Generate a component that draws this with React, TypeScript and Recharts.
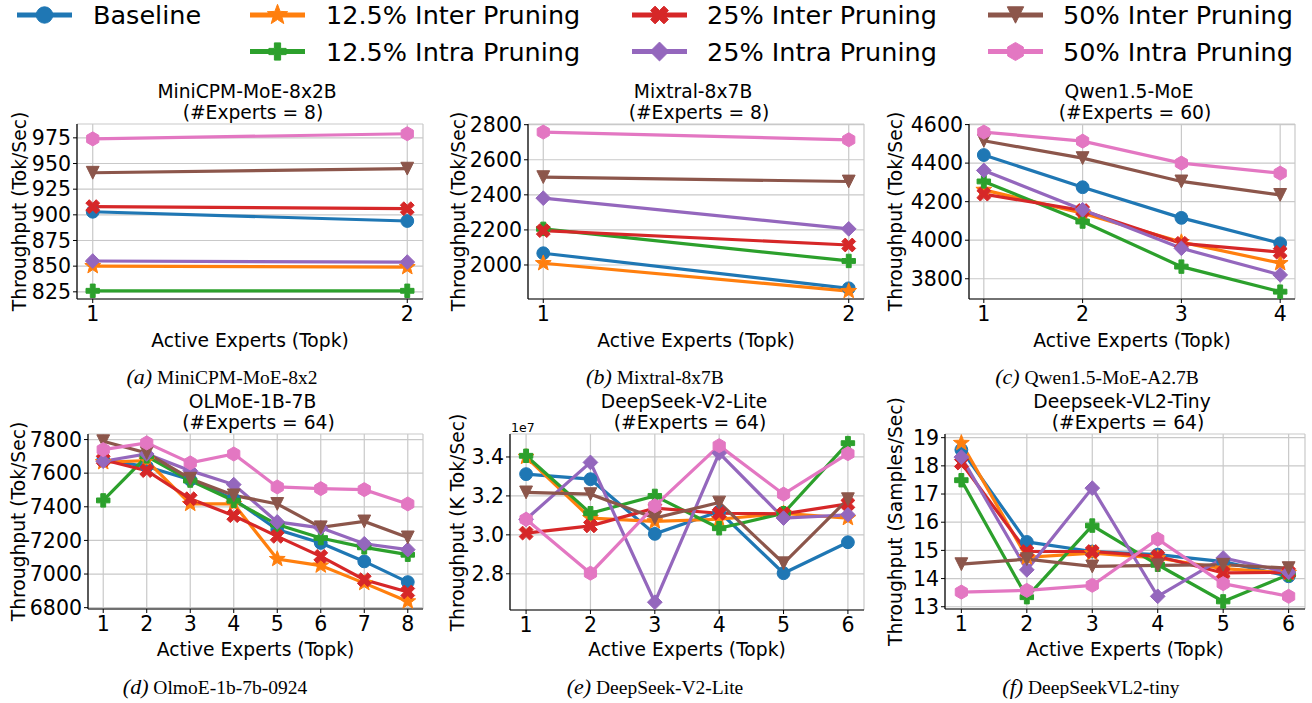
import React from 'react';
import { LineChart, Line, XAxis, YAxis, CartesianGrid } from 'recharts';

// ---------------- series (plot order = z-order) ----------------
const SERIES_NAMES = [
  'Baseline',
  '12.5% Inter Pruning',
  '12.5% Intra Pruning',
  '25% Inter Pruning',
  '25% Intra Pruning',
  '50% Inter Pruning',
  '50% Intra Pruning',
];
const SERIES_COLORS = ['#1f77b4', '#ff7f0e', '#2ca02c', '#d62728', '#9467bd', '#8c564b', '#e377c2'];
const SERIES_MARKERS = ['circle', 'star', 'plus', 'x', 'diamond', 'triangleDown', 'hexagon'];

// ---------------- x categories: Active Experts (Topk) ----------------
const TOPK_2 = [1, 2];
const TOPK_4 = [1, 2, 3, 4];
const TOPK_6 = [1, 2, 3, 4, 5, 6];
const TOPK_8 = [1, 2, 3, 4, 5, 6, 7, 8];

// ---------------- values (rows follow SERIES_NAMES) ----------------
const MINICPM_TPUT = [
  [903, 894],
  [850, 849],
  [826, 826],
  [908, 906],
  [855, 854],
  [941, 945],
  [974, 979],
];
const MIXTRAL_TPUT = [
  [2067, 1867],
  [2010, 1851],
  [2206, 2023],
  [2196, 2114],
  [2381, 2206],
  [2501, 2476],
  [2758, 2714],
];
const QWEN_TPUT = [
  [4442, 4275, 4116, 3984],
  [4261, 4140, 3990, 3881],
  [4305, 4097, 3863, 3733],
  [4239, 4154, 3984, 3938],
  [4362, 4158, 3958, 3820],
  [4516, 4426, 4305, 4235],
  [4561, 4514, 4400, 4348],
];
const OLMOE_TPUT = [
  [7680, 7640, 7561, 7445, 7264, 7185, 7075, 6952],
  [7665, 7675, 7417, 7417, 7089, 7050, 6946, 6837],
  [7438, 7700, 7556, 7436, 7294, 7214, 7159, 7115],
  [7680, 7615, 7448, 7347, 7224, 7105, 6966, 6893],
  [7671, 7714, 7615, 7532, 7310, 7275, 7180, 7145],
  [7790, 7720, 7567, 7468, 7417, 7278, 7313, 7218],
  [7740, 7780, 7661, 7714, 7518, 7508, 7502, 7417],
];
const DSV2LITE_TPUT = [
  [3.312e7, 3.286e7, 3.005e7, 3.12e7, 2.803e7, 2.962e7],
  [3.4e7, 3.086e7, 3.069e7, 3.08e7, 3.11e7, 3.086e7],
  [3.406e7, 3.111e7, 3.2e7, 3.034e7, 3.111e7, 3.471e7],
  [3.009e7, 3.046e7, 3.137e7, 3.111e7, 3.108e7, 3.159e7],
  [3.08e7, 3.372e7, 2.654e7, 3.42e7, 3.086e7, 3.103e7],
  [3.218e7, 3.209e7, 3.086e7, 3.166e7, 2.854e7, 3.183e7],
  [3.08e7, 2.803e7, 3.149e7, 3.458e7, 3.209e7, 3.417e7],
];
const DSVL2TINY_TPUT = [
  [18.57, 15.3, 14.96, 14.85, 14.6, 14.08],
  [18.81, 14.75, 14.9, 14.73, 14.35, 14.2],
  [17.49, 13.34, 15.88, 14.49, 13.19, 14.14],
  [18.1, 14.96, 14.96, 14.79, 14.2, 14.22],
  [18.31, 14.31, 17.21, 13.37, 14.73, 14.22],
  [14.51, 14.69, 14.43, 14.47, 14.49, 14.37],
  [13.52, 13.58, 13.76, 15.4, 13.82, 13.37],
];

// ---------------- y tick labels ----------------
const MINICPM_YTICKS = [825, 850, 875, 900, 925, 950, 975];
const MIXTRAL_YTICKS = [2000, 2200, 2400, 2600, 2800];
const QWEN_YTICKS = [3800, 4000, 4200, 4400, 4600];
const OLMOE_YTICKS = [6800, 7000, 7200, 7400, 7600, 7800];
const DSV2LITE_YTICKS = [2.8e7, 3.0e7, 3.2e7, 3.4e7];
const DSVL2TINY_YTICKS = [13, 14, 15, 16, 17, 18, 19];

const FONT = '"DejaVu Sans", Verdana, sans-serif';
const SERIF = '"Liberation Serif", "Times New Roman", serif';
const TICK_FS = 20.5;
const LABEL_FS = 18.7;

type PanelDef = {
  id: string;
  title: string;
  experts: number;
  ylabel: string;
  capLabel: string;
  capName: string;
  topk: number[];
  values: number[][];
  yTicks: number[];
  yDomain: [number, number];
  L: number; R: number; T: number; B: number;
  ylabelX: number;
  captionX: number;
  fmt?: (v: number) => string;
  offsetText?: string;
};

const PANELS: PanelDef[] = [
  {
    id: 'a', title: 'MiniCPM-MoE-8x2B', experts: 8, ylabel: 'Throughput (Tok/Sec)',
    capLabel: '(a)', capName: 'MiniCPM-MoE-8x2', topk: TOPK_2, values: MINICPM_TPUT,
    yTicks: MINICPM_YTICKS, yDomain: [818, 988.5], L: 77, R: 423, T: 124, B: 299, ylabelX: 19, captionX: 222,
  },
  {
    id: 'b', title: 'Mixtral-8x7B', experts: 8, ylabel: 'Throughput (Tok/Sec)',
    capLabel: '(b)', capName: 'Mixtral-8x7B', topk: TOPK_2, values: MIXTRAL_TPUT,
    yTicks: MIXTRAL_YTICKS, yDomain: [1806, 2804], L: 528, R: 864, T: 124, B: 299, ylabelX: 458, captionX: 655,
  },
  {
    id: 'c', title: 'Qwen1.5-MoE', experts: 60, ylabel: 'Throughput (Tok/Sec)',
    capLabel: '(c)', capName: 'Qwen1.5-MoE-A2.7B', topk: TOPK_4, values: QWEN_TPUT,
    yTicks: QWEN_YTICKS, yDomain: [3695, 4603], L: 969, R: 1295, T: 124, B: 299, ylabelX: 895, captionX: 1097,
  },
  {
    id: 'd', title: 'OLMoE-1B-7B', experts: 64, ylabel: 'Throughput (Tok/Sec)',
    capLabel: '(d)', capName: 'OlmoE-1b-7b-0924', topk: TOPK_8, values: OLMOE_TPUT,
    yTicks: OLMOE_YTICKS, yDomain: [6792, 7833], L: 88, R: 423, T: 434, B: 609, ylabelX: 18, captionX: 215,
  },
  {
    id: 'e', title: 'DeepSeek-V2-Lite', experts: 64, ylabel: 'Throughput (K Tok/Sec)',
    capLabel: '(e)', capName: 'DeepSeek-V2-Lite', topk: TOPK_6, values: DSV2LITE_TPUT,
    yTicks: DSV2LITE_YTICKS, yDomain: [2.614e7, 3.518e7], L: 510, R: 864, T: 434, B: 610, ylabelX: 457, captionX: 655,
    fmt: (v: number) => (v / 1e7).toFixed(1), offsetText: '1e7',
  },
  {
    id: 'f', title: 'Deepseek-VL2-Tiny', experts: 64, ylabel: 'Throughput (Samples/Sec)',
    capLabel: '(f)', capName: 'DeepSeekVL2-tiny', topk: TOPK_6, values: DSVL2TINY_TPUT,
    yTicks: DSVL2TINY_YTICKS, yDomain: [12.92, 19.13], L: 945, R: 1305, T: 434, B: 609, ylabelX: 895, captionX: 1091,
  },
];

function Marker({ shape, cx, cy, r, color }: { shape: string; cx: number; cy: number; r: number; color: string }) {
  if (cx == null || cy == null || Number.isNaN(cx) || Number.isNaN(cy)) return null;
  const poly = (pts: number[][]) => (
    <polygon
      points={pts.map((p) => `${(cx + p[0]).toFixed(2)},${(cy + p[1]).toFixed(2)}`).join(' ')}
      fill={color}
      stroke={color}
      strokeWidth={1}
    />
  );
  switch (shape) {
    case 'circle':
      return <circle cx={cx} cy={cy} r={r} fill={color} stroke={color} strokeWidth={1} />;
    case 'star': {
      const pts: number[][] = [];
      const R = r * 1.3;
      const ri = R * 0.42;
      for (let i = 0; i < 10; i++) {
        const a = -Math.PI / 2 + (i * Math.PI) / 5;
        const rr = i % 2 === 0 ? R : ri;
        pts.push([rr * Math.cos(a), rr * Math.sin(a)]);
      }
      return poly(pts);
    }
    case 'plus':
    case 'x': {
      const a = r * (shape === 'x' ? 1.15 : 1.05);
      const w = r * 0.38;
      let pts = [[-w, -a], [w, -a], [w, -w], [a, -w], [a, w], [w, w], [w, a], [-w, a], [-w, w], [-a, w], [-a, -w], [-w, -w]];
      if (shape === 'x') {
        const s = Math.SQRT1_2;
        pts = pts.map(([x, y]) => [(x - y) * s, (x + y) * s]);
      }
      return poly(pts);
    }
    case 'diamond': {
      const d = r * 1.15;
      return poly([[0, -d], [d, 0], [0, d], [-d, 0]]);
    }
    case 'triangleDown':
      return poly([[0, r], [-r, -r], [r, -r]]);
    case 'hexagon': {
      const pts: number[][] = [];
      const R = r * 1.1;
      for (let i = 0; i < 6; i++) {
        const a = -Math.PI / 2 + (i * Math.PI) / 3;
        pts.push([R * Math.cos(a), R * Math.sin(a)]);
      }
      return poly(pts);
    }
    default:
      return null;
  }
}

const WY = 75;
const MT = 10;
const MR = 10;
const XH = 40;

function Panel({ p }: { p: PanelDef }) {
  const n = p.topk.length;
  const pad = 0.05 * (n - 1);
  const xDomain: [number, number] = [p.topk[0] - pad, p.topk[n - 1] + pad];
  const data = p.topk.map((k, i) => {
    const row: Record<string, number> = { k };
    p.values.forEach((vals, si) => {
      row[`s${si}`] = vals[i];
    });
    return row;
  });
  const width = WY + (p.R - p.L) + MR;
  const height = MT + (p.B - p.T) + XH;
  const cx = (p.L + p.R) / 2;
  const tickStyle = { fill: '#000', fontSize: TICK_FS, fontFamily: FONT };
  const topRow = p.T < 300;
  const titleTop = topRow ? 81.2 : 391;
  const xlabelCenter = topRow ? 340 : 649;
  const captionCenter = topRow ? 377 : 687;
  return (
    <>
      <div
        style={{
          position: 'absolute', left: cx - 200, top: titleTop, width: 400, textAlign: 'center',
          fontSize: LABEL_FS, lineHeight: '21px', whiteSpace: 'pre', fontFamily: FONT, color: '#000',
        }}
      >
        {`${p.title} \n (#Experts = ${p.experts})`}
      </div>
      <div style={{ position: 'absolute', left: p.L - WY, top: p.T - MT }}>
        <LineChart width={width} height={height} data={data} margin={{ top: MT, right: MR, bottom: 0, left: 0 }}>
          <CartesianGrid stroke="#c9c9c9" strokeWidth={1.2} />
          <XAxis
            dataKey="k" type="number" domain={xDomain} ticks={p.topk} interval={0} allowDataOverflow
            height={XH} tick={tickStyle} tickSize={4} tickMargin={3}
            axisLine={{ stroke: '#000', strokeWidth: 1.2 }} tickLine={{ stroke: '#000' }}
          />
          <XAxis
            xAxisId="top" orientation="top" type="number" domain={xDomain} allowDataOverflow
            height={0} tick={false} tickLine={false} axisLine={{ stroke: '#000', strokeWidth: 1.2 }}
          />
          <YAxis
            type="number" domain={p.yDomain} ticks={p.yTicks} interval={0} allowDataOverflow width={WY}
            tick={tickStyle} tickSize={4} tickMargin={2} tickFormatter={p.fmt ? p.fmt : (v: number) => `${v}`}
            axisLine={{ stroke: '#000', strokeWidth: 1.2 }} tickLine={{ stroke: '#000' }}
          />
          <YAxis
            yAxisId="right" orientation="right" type="number" domain={p.yDomain} allowDataOverflow width={0}
            tick={false} tickLine={false} axisLine={{ stroke: '#000', strokeWidth: 1.2 }}
          />
          {SERIES_NAMES.map((name, si) => (
            <Line
              key={name}
              name={name}
              dataKey={`s${si}`}
              type="linear"
              stroke={SERIES_COLORS[si]}
              strokeWidth={3.2}
              isAnimationActive={false}
              activeDot={false}
              dot={(dp: any) => (
                <Marker
                  key={`${p.id}-${si}-${dp.index}`}
                  shape={SERIES_MARKERS[si]}
                  cx={dp.cx}
                  cy={dp.cy}
                  r={6.4}
                  color={SERIES_COLORS[si]}
                />
              )}
            />
          ))}
        </LineChart>
      </div>
      {p.offsetText ? (
        <div style={{ position: 'absolute', left: p.L + 1, top: p.T - 13, fontSize: 12.5, fontFamily: FONT, lineHeight: '14px' }}>
          {p.offsetText}
        </div>
      ) : null}
      <div
        style={{
          position: 'absolute', left: p.ylabelX - 160, top: (p.T + p.B) / 2 - 10.5, width: 320, height: 21,
          textAlign: 'center', fontSize: LABEL_FS, lineHeight: '21px', fontFamily: FONT, whiteSpace: 'nowrap',
          transform: 'rotate(-90deg)', transformOrigin: '50% 50%',
        }}
      >
        {p.ylabel}
      </div>
      <div
        style={{
          position: 'absolute', left: cx - 200, top: xlabelCenter - 10.5, width: 400, textAlign: 'center',
          fontSize: LABEL_FS, lineHeight: '21px', fontFamily: FONT, whiteSpace: 'nowrap',
        }}
      >
        Active Experts (Topk)
      </div>
      <div
        style={{
          position: 'absolute', left: p.captionX - 200, top: captionCenter - 13, width: 400, textAlign: 'center',
          fontFamily: SERIF, lineHeight: '26px', whiteSpace: 'nowrap', color: '#000',
        }}
      >
        <i style={{ fontSize: 22 }}>{p.capLabel}</i>
        <span style={{ fontSize: 19.5 }}> {p.capName}</span>
      </div>
    </>
  );
}

const LEGEND_COLS = [
  { lineX: 17, textX: 93, items: [0] },
  { lineX: 250, textX: 326, items: [1, 2] },
  { lineX: 632, textX: 707, items: [3, 4] },
  { lineX: 988, textX: 1063, items: [5, 6] },
];
const LEGEND_ROWS_Y = [15, 51.5];

function LegendBlock() {
  return (
    <svg width={1312} height={72} style={{ position: 'absolute', left: 0, top: 0 }}>
      {LEGEND_COLS.map((col) =>
        col.items.map((si, ri) => {
          const y = LEGEND_ROWS_Y[ri];
          return (
            <g key={si}>
              <line x1={col.lineX} x2={col.lineX + 55} y1={y} y2={y} stroke={SERIES_COLORS[si]} strokeWidth={4.8} />
              <Marker shape={SERIES_MARKERS[si]} cx={col.lineX + 27.5} cy={y} r={8.2} color={SERIES_COLORS[si]} />
              <text x={col.textX} y={y + 9.3} fontSize={25.5} fontFamily={FONT} fill="#000">
                {SERIES_NAMES[si]}
              </text>
            </g>
          );
        })
      )}
    </svg>
  );
}

export default function App() {
  return (
    <div style={{ position: 'absolute', left: 0, top: 0, width: 1312, height: 703, background: '#fff', fontFamily: FONT, overflow: 'hidden' }}>
      <LegendBlock />
      {PANELS.map((p) => (
        <Panel key={p.id} p={p} />
      ))}
    </div>
  );
}
